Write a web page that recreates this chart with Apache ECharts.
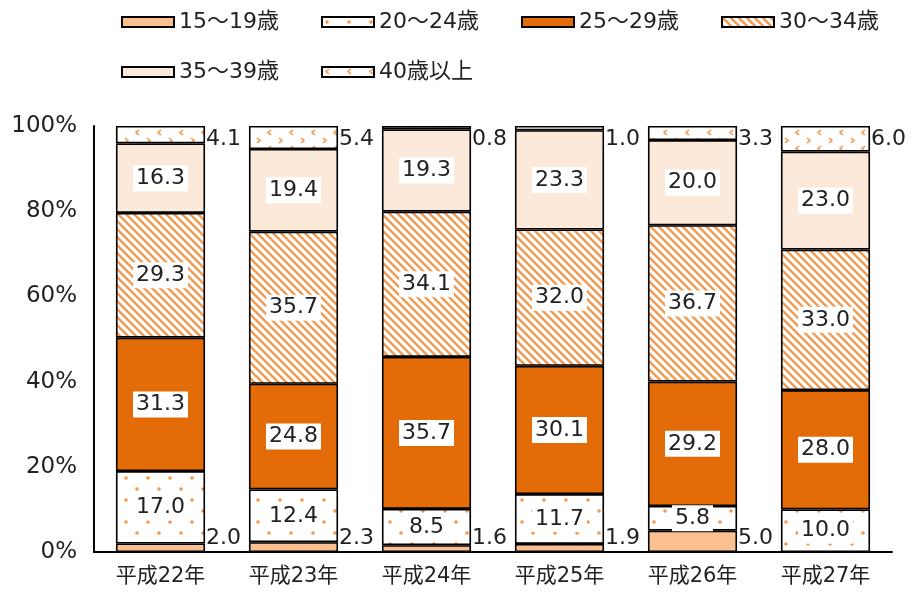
<!DOCTYPE html>
<html>
<head>
<meta charset="utf-8">
<script src="https://cdn.jsdelivr.net/npm/echarts@6/dist/echarts.min.js"></script>
<style>
  html, body { margin: 0; padding: 0; background: #fff; }
  #chart { width: 915px; height: 592px; }
</style>
</head>
<body>
<div id="chart"></div>
<script>
// Age-group shares of births by year (%), stacked to 100
const categories = ['平成22年', '平成23年', '平成24年', '平成25年', '平成26年', '平成27年'];
const ageGroups = ['15～19歳', '20～24歳', '25～29歳', '30～34歳', '35～39歳', '40歳以上'];
const age15to19 = [2.0, 2.3, 1.6, 1.9, 5.0, 0];
const age20to24 = [17.0, 12.4, 8.5, 11.7, 5.8, 10.0];
const age25to29 = [31.3, 24.8, 35.7, 30.1, 29.2, 28.0];
const age30to34 = [29.3, 35.7, 34.1, 32.0, 36.7, 33.0];
const age35to39 = [16.3, 19.4, 19.3, 23.3, 20.0, 23.0];
const age40plus = [4.1, 5.4, 0.8, 1.0, 3.3, 6.0];
const yTicks = [0, 20, 40, 60, 80, 100];

const FONT = '"DejaVu Sans", "Noto Sans CJK JP", sans-serif';
const ORANGE = '#F79646';

function makeTile(w, h, draw) {
  const c = document.createElement('canvas');
  c.width = w; c.height = h;
  const ctx = c.getContext('2d');
  ctx.fillStyle = '#fff';
  ctx.fillRect(0, 0, w, h);
  draw(ctx);
  return { image: c, repeat: 'repeat' };
}

// staggered orange dots
const dotFill = makeTile(22, 22, ctx => {
  ctx.fillStyle = ORANGE;
  [[5, 5], [16, 16]].forEach(([x, y]) => {
    ctx.beginPath(); ctx.arc(x, y, 1.8, 0, Math.PI * 2); ctx.fill();
  });
});

// diagonal stripes (top-left to bottom-right)
const stripeFill = makeTile(8, 8, ctx => {
  ctx.strokeStyle = '#F29A50';
  ctx.lineWidth = 2.4;
  ctx.beginPath();
  ctx.moveTo(-2, -2); ctx.lineTo(10, 10);
  ctx.moveTo(-10, -2); ctx.lineTo(2, 10);
  ctx.moveTo(6, -2); ctx.lineTo(18, 10);
  ctx.stroke();
});

// small chevrons
const chevronFill = makeTile(22, 16, ctx => {
  ctx.strokeStyle = ORANGE;
  ctx.lineWidth = 1.6;
  ctx.beginPath();
  ctx.moveTo(7, 2); ctx.lineTo(4, 4.5); ctx.lineTo(7, 7);
  ctx.moveTo(15, 10); ctx.lineTo(18, 12.5); ctx.lineTo(15, 15);
  ctx.stroke();
});

const fills = ['#FAC090', dotFill, '#E36C09', stripeFill, '#FDE9D9', chevronFill];
const values = [age15to19, age20to24, age25to29, age30to34, age35to39, age40plus];

const insideLabel = {
  show: true,
  position: 'inside',
  color: '#222',
  fontFamily: FONT,
  fontSize: 22,
  backgroundColor: '#fff',
  padding: [3, 3, 1, 3],
  formatter: p => p.value.toFixed(1)
};

const labels = [
  { // bottom segment: to the right, near the base
    show: true,
    position: ['100%', '100%'],
    align: 'left',
    verticalAlign: 'bottom',
    offset: [1, -3],
    color: '#222',
    fontFamily: FONT,
    fontSize: 22,
    formatter: p => p.value > 0 ? p.value.toFixed(1) : ''
  },
  insideLabel, insideLabel, insideLabel, insideLabel,
  { // top segment: to the right, at the top
    show: true,
    position: ['100%', 0],
    align: 'left',
    verticalAlign: 'top',
    offset: [1, 2],
    color: '#222',
    fontFamily: FONT,
    fontSize: 22,
    formatter: p => p.value.toFixed(1)
  }
];

const series = ageGroups.map((name, i) => ({
  name,
  type: 'bar',
  stack: 'total',
  barWidth: '67%',
  data: values[i],
  itemStyle: { color: fills[i], borderColor: '#000', borderWidth: 1.6 },
  label: labels[i],
  emphasis: { disabled: true },
  animation: false
}));

// one legend per entry so every entry sits on a fixed 200px column
const legendLefts = [116, 316, 516, 716, 116, 316];
const legendTops = [6, 6, 6, 6, 56, 56];
const legends = ageGroups.map((name, i) => ({
  left: legendLefts[i],
  top: legendTops[i],
  data: [name],
  itemWidth: 52,
  itemHeight: 10,
  icon: 'rect',
  selectedMode: false,
  itemStyle: { borderColor: '#000', borderWidth: 2 },
  textStyle: { fontFamily: FONT, fontSize: 22, color: '#222' }
}));

const chart = echarts.init(document.getElementById('chart'), null, { renderer: 'canvas' });
chart.setOption({
  backgroundColor: '#fff',
  animation: false,
  legend: legends,
  grid: { left: 94, right: 23, top: 126, bottom: 40 },
  xAxis: {
    type: 'category',
    data: categories,
    axisLine: { lineStyle: { color: '#000', width: 2 } },
    axisTick: { show: false },
    axisLabel: { fontFamily: FONT, fontSize: 21, color: '#222', margin: 14 }
  },
  yAxis: {
    type: 'value',
    min: yTicks[0],
    max: yTicks[yTicks.length - 1],
    interval: yTicks[1] - yTicks[0],
    axisLine: { show: true, lineStyle: { color: '#000', width: 2 } },
    axisTick: { show: false },
    splitLine: { show: false },
    axisLabel: { fontFamily: FONT, fontSize: 23, color: '#222', margin: 17, formatter: '{value}%' }
  },
  series
});
</script>
</body>
</html>
